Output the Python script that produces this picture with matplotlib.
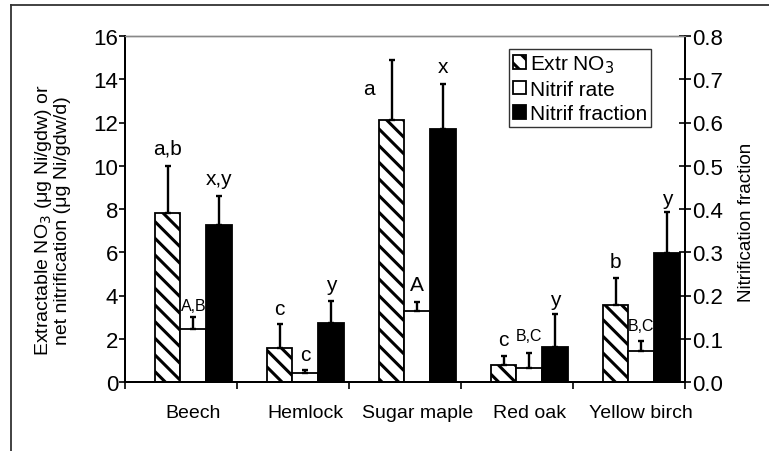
import matplotlib
matplotlib.use("Agg")
import matplotlib.pyplot as plt
from matplotlib.lines import Line2D
import numpy as np

plt.rcParams['font.family'] = ['Liberation Sans', 'DejaVu Sans']
plt.rcParams['hatch.linewidth'] = 2.2

species = ["Beech", "Hemlock", "Sugar maple", "Red oak", "Yellow birch"]

extr_no3 = [7.8, 1.55, 12.1, 0.8, 3.55]
extr_no3_err = [2.2, 1.15, 2.8, 0.4, 1.28]
extr_no3_lbl = ["a,b", "c", "a", "c", "b"]
extr_no3_lbl_y = [10.8, 3.4, 13.55, 1.95, 5.55]

nitrif_rate = [2.45, 0.4, 3.3, 0.65, 1.45]
nitrif_rate_err = [0.55, 0.15, 0.38, 0.7, 0.45]
nitrif_rate_lbl = ["A,B", "c", "A", "B,C", "B,C"]
nitrif_rate_lbl_y = [3.55, 1.25, 4.5, 2.15, 2.6]

nitrif_frac = [0.362, 0.137, 0.585, 0.081, 0.299]
nitrif_frac_err = [0.069, 0.050, 0.105, 0.076, 0.093]
nitrif_frac_lbl = ["x,y", "y", "x", "y", "y"]
nitrif_frac_lbl_y = [0.47, 0.225, 0.73, 0.19, 0.425]

left_ticks = [0, 2, 4, 6, 8, 10, 12, 14, 16]
right_ticks = [0.0, 0.1, 0.2, 0.3, 0.4, 0.5, 0.6, 0.7, 0.8]

W, H = 769, 452
fig = plt.figure(figsize=(W / 100, H / 100), dpi=100)
ax = fig.add_axes([125 / W, 1 - 383 / H, 560 / W, 346 / H])
ax2 = ax.twinx()

x = np.arange(len(species))
bw = 0.23
FS = 15

# outer frame (top and left edges visible)
fig.add_artist(Line2D([11 / W, 1.0], [1 - 6 / H, 1 - 6 / H], transform=fig.transFigure, color='#333333', lw=1.3))
fig.add_artist(Line2D([11 / W, 11 / W], [0.0, 1 - 6 / H], transform=fig.transFigure, color='#333333', lw=1.3))

ekw = dict(fmt='none', ecolor='black', elinewidth=1.7, capsize=2.5, capthick=1.7)

ax.bar(x - bw, extr_no3, bw, facecolor='white', edgecolor='black', hatch='\\\\', lw=1.3, zorder=2,
       label='Extr NO$_3$')
ax.errorbar(x - bw, extr_no3, yerr=[np.zeros(len(x)), extr_no3_err], zorder=3, **ekw)

ax.bar(x, nitrif_rate, bw, facecolor='white', edgecolor='black', lw=1.3, zorder=2, label='Nitrif rate')
ax.errorbar(x, nitrif_rate, yerr=[np.zeros(len(x)), nitrif_rate_err], zorder=3, **ekw)

ax2.bar(x + bw, nitrif_frac, bw, facecolor='black', edgecolor='black', lw=1.3, zorder=2, label='Nitrif fraction')
ax2.errorbar(x + bw, nitrif_frac, yerr=[np.zeros(len(x)), nitrif_frac_err], zorder=3, **ekw)

for i in range(len(x)):
    xa = x[i] - bw
    if i == 2:
        xa = x[i] - bw - 0.2
    ax.text(xa, extr_no3_lbl_y[i], extr_no3_lbl[i], ha='center', va='center', fontsize=FS)
    small = len(nitrif_rate_lbl[i]) > 1
    ax.text(x[i], nitrif_rate_lbl_y[i], nitrif_rate_lbl[i], ha='center', va='center',
            fontsize=11.5 if small else FS)
    ax2.text(x[i] + bw, nitrif_frac_lbl_y[i], nitrif_frac_lbl[i], ha='center', va='center', fontsize=FS)

ax.set_xlim(-0.61, 4.39)
ax.set_ylim(0, 16)
ax2.set_ylim(0, 0.8)
ax.set_yticks(left_ticks)
ax.set_yticklabels([str(t) for t in left_ticks])
ax2.set_yticks(right_ticks)
ax2.set_yticklabels([f"{t:.1f}" for t in right_ticks])

ax.set_xticks(x)
ax.set_xticklabels(species, fontsize=14)
ax.set_xticks(np.arange(-0.61, 4.40, 1.0), minor=True)
ax.tick_params(axis='x', which='major', length=0, pad=16)
ax.tick_params(axis='x', which='minor', length=5, width=1.2, direction='out')
ax.tick_params(axis='y', which='major', length=4, width=1.2, direction='out', pad=1, labelsize=16)
ax2.tick_params(axis='y', which='major', length=8, width=1.2, direction='inout', pad=1, labelsize=16)

for a in (ax, ax2):
    a.spines['top'].set_color('#888888')
    a.spines['top'].set_linewidth(1.0)
    a.spines['left'].set_linewidth(1.4)
    a.spines['right'].set_linewidth(1.4)
    a.spines['bottom'].set_linewidth(1.4)

ax.set_ylabel("Extractable NO$_3$ (\u03bcg Ni/gdw) or\nnet nitrification (\u03bcg Ni/gdw/d)", fontsize=14,
              linespacing=1.0)
ax.yaxis.set_label_coords(-0.097, 0.47)
ax2.set_ylabel("Nitrification fraction", fontsize=13.5)
ax2.yaxis.set_label_coords(1.095, 0.465)

h1, l1 = ax.get_legend_handles_labels()
h2, l2 = ax2.get_legend_handles_labels()
leg = ax2.legend(h1 + h2, l1 + l2, loc='upper left', bbox_to_anchor=(0.686, 0.962), fontsize=FS,
                 handlelength=0.6, handleheight=0.6, handletextpad=0.2, labelspacing=0.25,
                 borderpad=0.2, fancybox=False, frameon=True, borderaxespad=0)
leg.get_frame().set_edgecolor('black')
leg.get_frame().set_linewidth(1.0)

fig.savefig("out.png", dpi=100)
